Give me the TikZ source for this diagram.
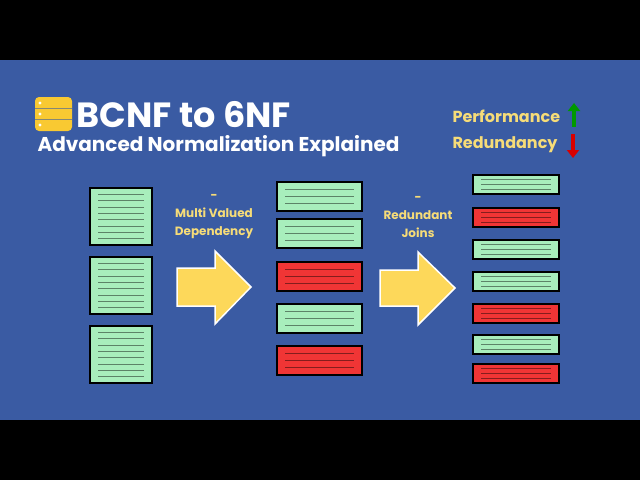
\documentclass[tikz,border=0pt]{standalone}
\usepackage{fontspec}
\setmainfont{Poppins}
\usetikzlibrary{positioning,arrows.meta}
\definecolor{bgblue}{HTML}{3A5BA3}
\definecolor{tabgreen}{HTML}{A8EEBC}
\definecolor{tabred}{HTML}{F03535}
\definecolor{lblyellow}{HTML}{F6DC78}
\definecolor{arryellow}{HTML}{FDD85A}
\definecolor{dbyellow}{HTML}{F9C932}
\tikzset{
  tab/.style={draw=black, line width=1.6pt},
  row/.style={line width=0.9pt},
  bigarrow/.style={fill=arryellow, draw=white, line width=1.5pt, line join=miter},
  lbl/.style={text=lblyellow, font=\bfseries\fontsize{12}{18}\selectfont, align=center},
}
% table with n rows of lines
\newcommand{\tabbox}[6]{% x1,y1,x2,y2,fill,nlines
  \draw[tab, fill=#5] (#1,#2) rectangle (#3,#4);
  \pgfmathsetmacro{\dy}{(#4-#2)/(#6+1)}
  \foreach \k in {1,...,#6}{
    \draw[row, draw=#5!55!black] ({#1+8},{#2+\k*\dy}) -- ({#3-8},{#2+\k*\dy});
  }
}
\begin{document}
\begin{tikzpicture}[x=1pt,y=-1pt]
  \useasboundingbox (0,0) rectangle (640,480);
  \fill[black] (0,0) rectangle (640,480);
  \fill[bgblue] (0,60) rectangle (640,420);

  % database icon
  \fill[dbyellow, rounded corners=4pt] (35,97) rectangle (72,131);
  \foreach \yy in {108,119}{
    \draw[bgblue!60!dbyellow, line width=1pt] (35,\yy) -- (72,\yy);
  }
  \foreach \yy in {103,114,125}{
    \fill[white] (40,\yy) circle (1.6);
  }

  % titles
  \node[anchor=west, text=white, font=\bfseries\fontsize{35}{38}\selectfont] (title) at (73,115) {BCNF to 6NF};
  \node[anchor=west, text=white, font=\bfseries\fontsize{20}{22}\selectfont] (subtitle) at (34,146) {Advanced Normalization Explained};

  % legend
  \node[anchor=west, text=lblyellow, font=\bfseries\fontsize{16}{18}\selectfont] (perf) at (449,116) {Performance};
  \node[anchor=west, text=lblyellow, font=\bfseries\fontsize{16}{18}\selectfont] (redu) at (449,145) {Redundancy};
  \draw[-{Triangle[width=12pt,length=8pt]}, line width=4pt, draw=green!60!black] (574,127) -- (574,103);
  \draw[-{Triangle[width=12pt,length=8pt]}, line width=4pt, draw=red!85!black] (573,134) -- (573,158);

  % left tables
  \tabbox{90}{188}{152}{245}{tabgreen}{8}
  \tabbox{90}{257}{152}{314}{tabgreen}{8}
  \tabbox{90}{326}{152}{383}{tabgreen}{8}

  % first step
  \node[lbl] (step1) at (214,217) {-\\Multi Valued\\Dependency};
  \draw[bigarrow] (177,268) -- (215,268) -- (215,251) -- (251,287) -- (215,324) -- (215,306) -- (177,306) -- cycle;

  % middle tables
  \tabbox{277}{182}{362}{211}{tabgreen}{3}
  \tabbox{277}{219}{362}{248}{tabgreen}{3}
  \tabbox{277}{262}{362}{291}{tabred}{3}
  \tabbox{277}{304}{362}{333}{tabgreen}{3}
  \tabbox{277}{346}{362}{375}{tabred}{3}

  % second step
  \node[lbl] (step2) at (418,217) {-\\Redundant\\Joins};
  \draw[bigarrow] (380,270) -- (418,270) -- (418,252) -- (455,288) -- (418,325) -- (418,306) -- (380,306) -- cycle;

  % right tables
  \foreach \yy/\cc in {175/tabgreen,208/tabred,240/tabgreen,272/tabgreen,304/tabred,335/tabgreen,364/tabred}{
    \tabbox{473}{\yy}{559}{\yy+19}{\cc}{3}
  }
\end{tikzpicture}
\end{document}
